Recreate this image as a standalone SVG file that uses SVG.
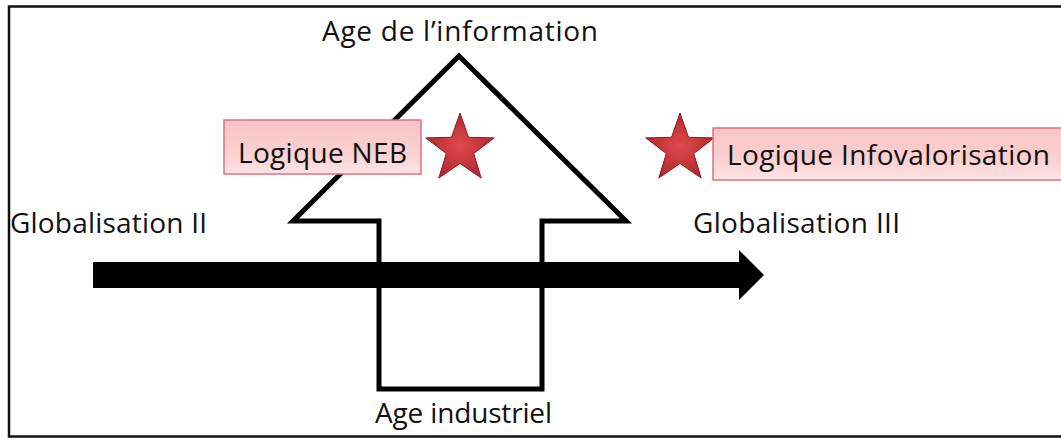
<svg xmlns="http://www.w3.org/2000/svg" width="1061" height="439" viewBox="0 0 1061 439">
<defs>
<style>
.t{font-family:"Open Sans","Liberation Sans",Arial,sans-serif;font-size:28px;fill:#111;}
.box{fill:url(#pink);stroke:#e07080;stroke-width:1.5;}
.star{fill:url(#red);stroke:#8a1a20;stroke-width:1;}
.shape{fill:none;stroke:#000;stroke-width:5;stroke-linejoin:miter;}
</style>
<linearGradient id="pink" x1="0" y1="0" x2="0" y2="1">
<stop offset="0" stop-color="#f9c4c4"/>
<stop offset="0.6" stop-color="#fad0d0"/>
<stop offset="1" stop-color="#fde4e4"/>
</linearGradient>
<radialGradient id="red" cx="0.5" cy="0.5" r="0.6">
<stop offset="0" stop-color="#e04a4a"/>
<stop offset="1" stop-color="#a8232b"/>
</radialGradient>
</defs>
<rect x="0" y="0" width="1061" height="439" fill="#fff"/>
<rect x="9" y="6.5" width="1080" height="430" fill="none" stroke="#111" stroke-width="2.5"/>
<g id="connectors">
<polygon id="up-arrow" class="shape" points="459,56 626,221 542,221 542,389 379,389 379,221 293,221"/>
<polygon id="timeline-arrow" fill="#000" points="93,262 739,262 739,250 764,275 739,300 739,288 93,288"/>
</g>
<g id="age-info"><text class="t" x="322" y="41" textLength="276">Age de l’information</text></g>
<g id="age-industriel"><text class="t" x="375" y="423" textLength="177">Age industriel</text></g>
<g id="glob2"><text class="t" x="10" y="233" textLength="197">Globalisation II</text></g>
<g id="glob3"><text class="t" x="693" y="233" textLength="207">Globalisation III</text></g>
<g id="neb">
<rect class="box" x="224" y="120" width="197" height="54"/>
<text class="t" x="238" y="163" textLength="169">Logique NEB</text>
</g>
<g id="star-neb">
<polygon class="star" transform="translate(460,149)" points="0,-36 8.5,-11.7 34.2,-11.1 13.7,4.5 21.2,29.1 0,14.5 -21.2,29.1 -13.7,4.5 -34.2,-11.1 -8.5,-11.7"/>
</g>
<g id="star-info">
<polygon class="star" transform="translate(680,149)" points="0,-36 8.5,-11.7 34.2,-11.1 13.7,4.5 21.2,29.1 0,14.5 -21.2,29.1 -13.7,4.5 -34.2,-11.1 -8.5,-11.7"/>
</g>
<g id="infoval">
<rect class="box" x="713" y="128" width="360" height="52"/>
<text class="t" x="727" y="165" textLength="323">Logique Infovalorisation</text>
</g>
</svg>
